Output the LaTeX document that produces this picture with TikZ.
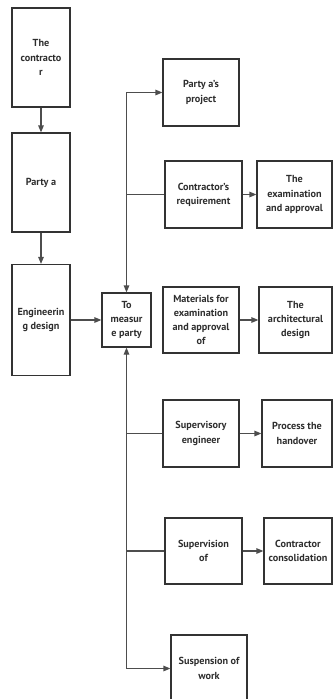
\documentclass[tikz,border=0pt]{standalone}
\usepackage{fontspec}
\setmainfont{PT Sans}
\usetikzlibrary{arrows.meta}
\definecolor{bordercol}{HTML}{333333}
\definecolor{linecol}{HTML}{4D4D4D}
\definecolor{textcol}{HTML}{2E2E2E}
\begin{document}
\begin{tikzpicture}[x=1pt,y=-1pt,
  box/.style={draw=bordercol, line width=1.2pt, align=center, inner sep=1pt,
    font=\fontsize{10.2}{14.2}\selectfont\bfseries, text=textcol},
  conn/.style={draw=linecol, line width=1.2pt},
  tip/.style={-{Triangle[length=7pt,width=5.5pt]}},
  bitip/.style={{Triangle[length=7pt,width=5.5pt]}-{Triangle[length=7pt,width=5.5pt]}}]
\useasboundingbox (0,0) rectangle (333,699);
% left column
\node[box, minimum width=58pt, minimum height=99pt] (contr) at (41,57.5) {The\\contracto\\r};
\node[box, minimum width=58pt, minimum height=99pt] (partya) at (41,182.5) {Party a};
\node[box, minimum width=58pt, minimum height=111pt] (eng) at (41,320) {Engineerin\\g design};
\node[box, minimum width=49pt, minimum height=54pt] (meas) at (126.5,320) {To\\measur\\e party};
% middle column
\node[box, minimum width=76pt, minimum height=67pt] (proj) at (201,92.5) {Party a's\\project};
\node[box, minimum width=77pt, minimum height=67pt] (req) at (203.5,194.5) {Contractor's\\requirement};
\node[box, minimum width=76pt, minimum height=66pt] (mat) at (201,320) {Materials for\\examination\\and approval\\of};
\node[box, minimum width=76pt, minimum height=67pt] (supeng) at (201,433.5) {Supervisory\\engineer};
\node[box, minimum width=77pt, minimum height=66pt] (supof) at (203.5,551) {Supervision\\of};
\node[box, minimum width=76pt, minimum height=67pt] (susp) at (209,668.5) {Suspension of\\work};
% right column
\node[box, minimum width=75pt, minimum height=67pt] (exam) at (294.5,194.5) {The\\examination\\and approval};
\node[box, minimum width=73pt, minimum height=66pt] (arch) at (295.5,320) {The\\architectural\\design};
\node[box, minimum width=70pt, minimum height=67pt] (hand) at (297,433.5) {Process the\\handover};
\node[box, minimum width=68pt, minimum height=66pt] (cons) at (298,551) {Contractor\\consolidation};
% connectors
\draw[conn, tip] (contr) -- (partya);
\draw[conn, tip] (partya) -- (eng);
\draw[conn, tip] (eng) -- (meas);
\draw[conn, bitip] (proj.west) -| (meas.north);
\draw[conn] (req.west) -- (req.west -| meas.north);
\draw[conn, bitip] (susp.west) -| (meas.south);
\draw[conn] (supeng.west) -- (supeng.west -| meas.south);
\draw[conn] (supof.west) -- (supof.west -| meas.south);
\draw[conn, tip] (req) -- (exam);
\draw[conn, tip] (mat) -- (arch);
\draw[conn, tip] (supeng) -- (hand);
\draw[conn, tip] (supof) -- (cons);
\end{tikzpicture}
\end{document}
